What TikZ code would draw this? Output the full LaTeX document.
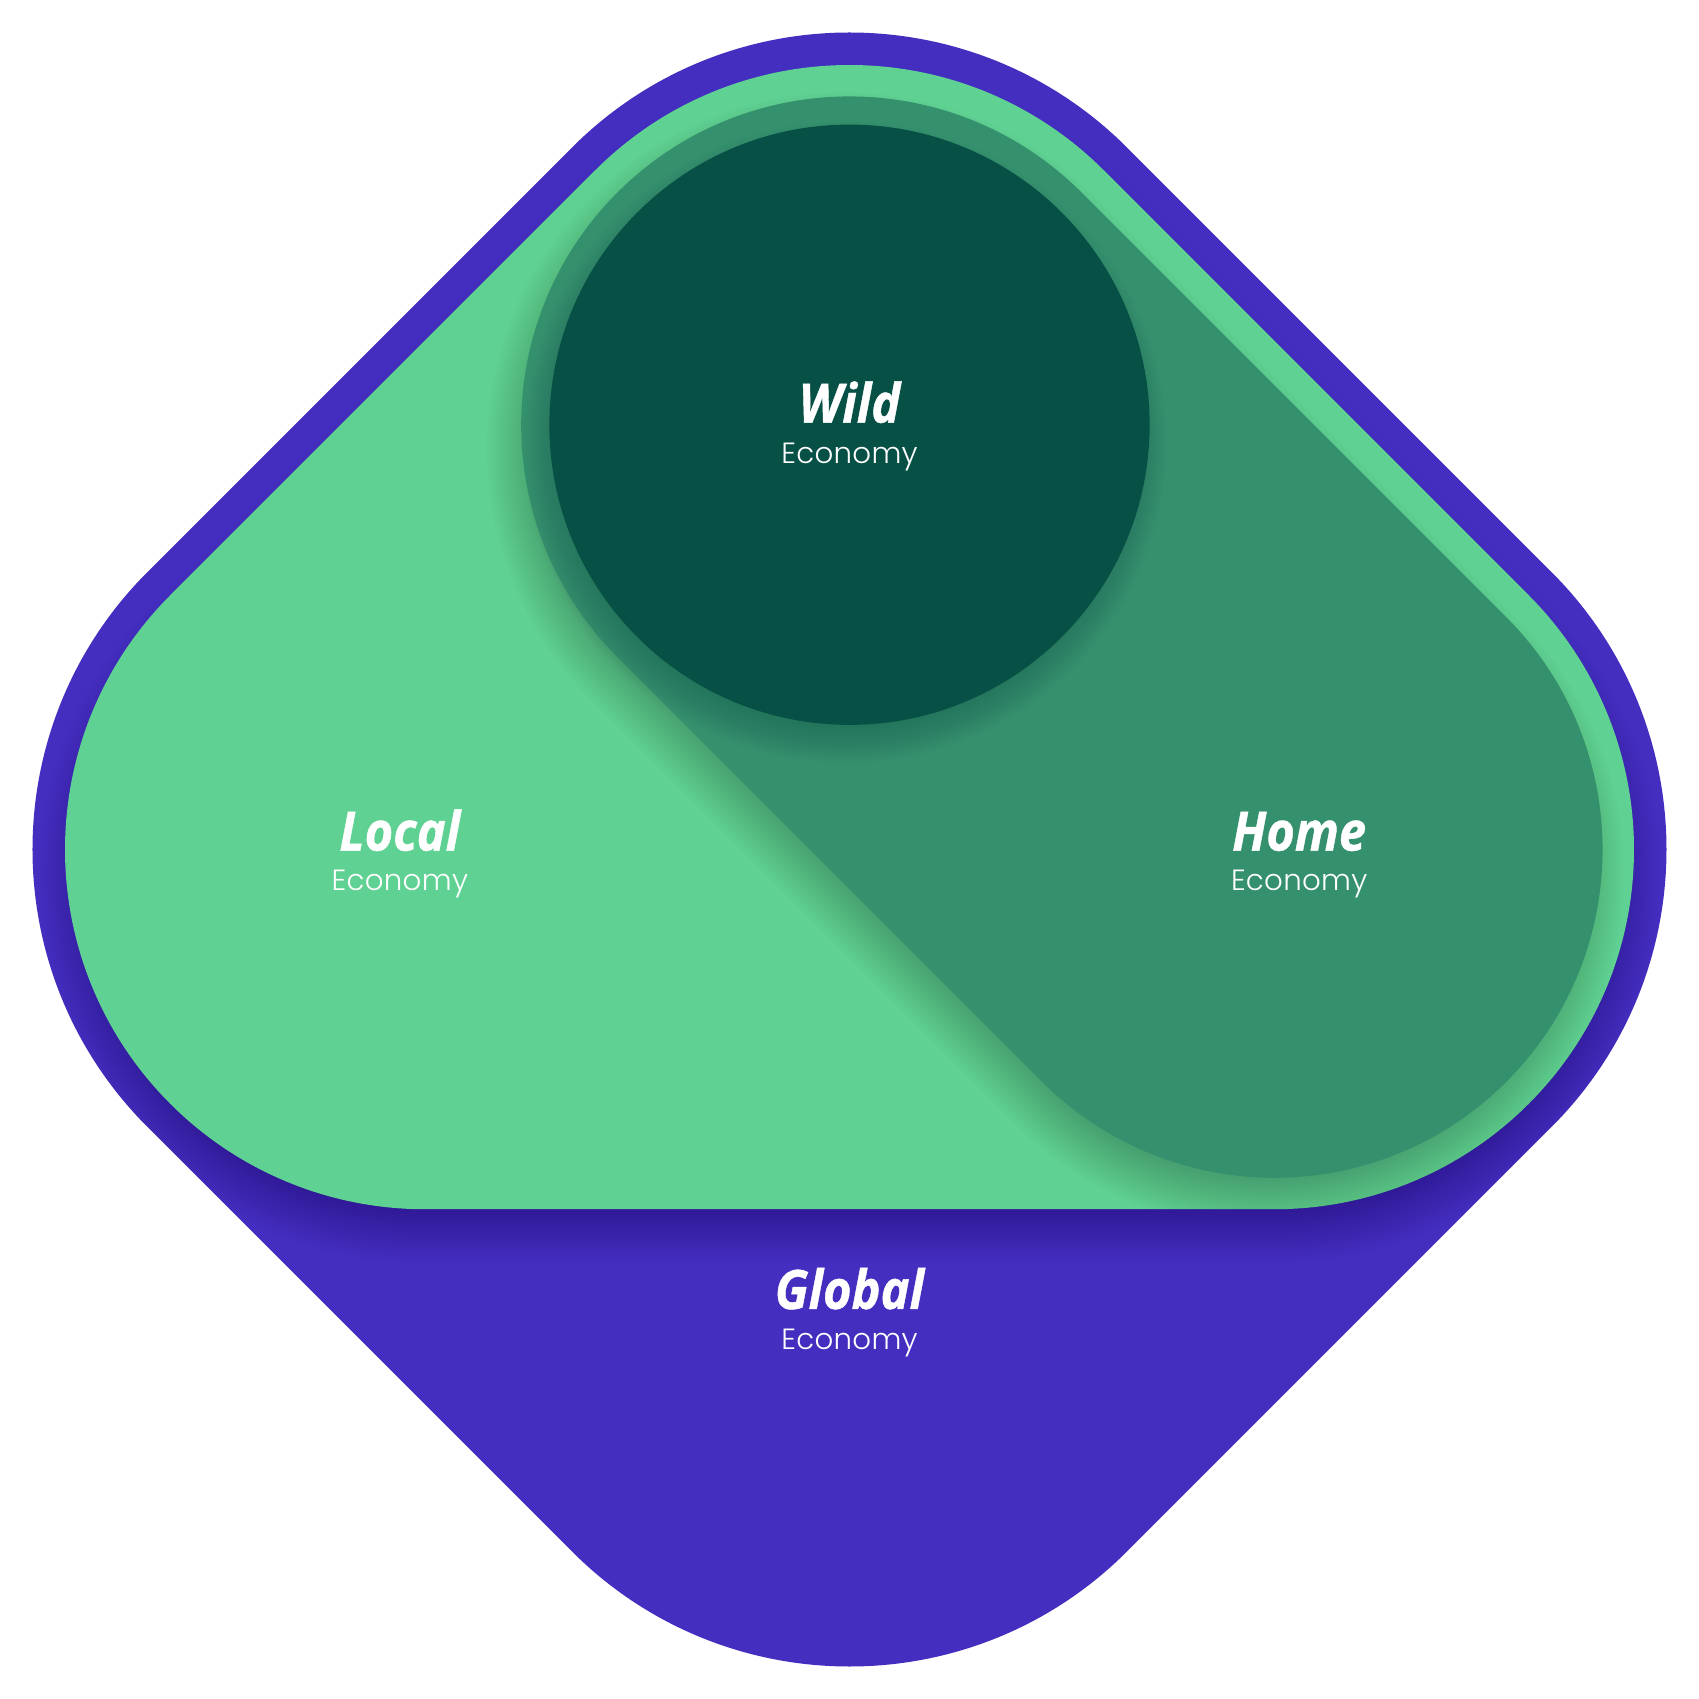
\documentclass[tikz,border=0pt]{standalone}
\usepackage{fontspec}
\usetikzlibrary{calc}
\newfontfamily\ttlfont{Open Sans}[FakeStretch=0.9, BoldItalicFeatures={FakeBold=0.8}]
\newfontfamily\econfont{Poppins}[UprightFont=* Light, LetterSpace=1]
\definecolor{purp}{HTML}{442EC0}
\definecolor{lgreen}{HTML}{5FD193}
\definecolor{mgreen}{HTML}{35916D}
\definecolor{dgreen}{HTML}{075045}
\tikzset{
  ttl/.style={text=white, font=\ttlfont\bfseries\itshape\fontsize{50}{60}\selectfont, anchor=base, inner sep=0pt},
  econ/.style={text=white, font=\econfont\fontsize{27}{32}\selectfont, anchor=base, inner sep=0pt},
}
\def\purplepath{($(T)+(135:362pt)$) -- ($(L)+(135:362pt)$) arc[start angle=135,end angle=225,radius=362pt]
  -- ($(B)+(225:362pt)$) arc[start angle=225,end angle=315,radius=362pt]
  -- ($(R)+(315:362pt)$) arc[start angle=315,end angle=405,radius=362pt]
  -- ($(T)+(45:362pt)$) arc[start angle=45,end angle=135,radius=362pt] -- cycle}
\def\greenpath{($(T)+(135:332pt)$) -- ($(L)+(135:332pt)$) arc[start angle=135,end angle=270,radius=332pt]
  -- ($(R)+(270:332pt)$) arc[start angle=270,end angle=405,radius=332pt]
  -- ($(T)+(45:332pt)$) arc[start angle=45,end angle=135,radius=332pt] -- cycle}
\def\capsulepath{($(T)+(225:303pt)$) -- ($(R)+(225:303pt)$) arc[start angle=225,end angle=405,radius=303pt]
  -- ($(T)+(45:303pt)$) arc[start angle=45,end angle=225,radius=303pt] -- cycle}
\begin{document}
\begin{tikzpicture}[x=1pt,y=1pt]
  \fill[white] (-784,-784) rectangle (784,784);
  \useasboundingbox (-784,-784) rectangle (784,784);
  \coordinate (T) at (0,392);
  \coordinate (L) at (-392,0);
  \coordinate (R) at (392,0);
  \coordinate (B) at (0,-392);
  % global (purple)
  \fill[purp] \purplepath;
  % shadow of local shape on purple
  \begin{scope}
    \clip \purplepath;
    \begin{scope}[transform canvas={yshift=-26pt}]
      \foreach \w [evaluate=\w as \lw using 2*(332+\w)] in {-26,-23.5,...,24}
        \draw[black, opacity=0.009, line width=\lw pt, line join=round] (T) -- (L) -- (R) -- cycle;
    \end{scope}
  \end{scope}
  % local (light green)
  \fill[lgreen] \greenpath;
  % shadow of home capsule
  \begin{scope}
    \clip \greenpath;
    \begin{scope}[transform canvas={shift={(-6pt,-22pt)}}]
      \foreach \w [evaluate=\w as \lw using 2*(303+\w)] in {-20,-18,...,26}
        \draw[black, opacity=0.008, line width=\lw pt, line cap=round] (T) -- (R);
    \end{scope}
  \end{scope}
  % home (medium green)
  \fill[mgreen] \capsulepath;
  % shadow of wild circle
  \begin{scope}
    \clip \greenpath;
    \begin{scope}[transform canvas={shift={(-4pt,-16pt)}}]
      \foreach \w [evaluate=\w as \rr using 277+\w] in {-14,-12,...,20}
        \fill[black, opacity=0.008] (T) circle[radius=\rr pt];
    \end{scope}
  \end{scope}
  % wild (dark green)
  \fill[dgreen] (T) circle[radius=277pt];
  % labels
  \node[ttl] (wildt) at (0,394) {Wild};
  \node[econ] (wilde) at (0,356) {Economy};
  \node[ttl] (localt) at (-415,-1) {Local};
  \node[econ] (locale) at (-415,-38) {Economy};
  \node[ttl] (homet) at (415,-1) {Home};
  \node[econ] (homee) at (415,-38) {Economy};
  \node[ttl] (globt) at (0,-424) {Global};
  \node[econ] (globe) at (0,-461) {Economy};
\end{tikzpicture}
\end{document}
